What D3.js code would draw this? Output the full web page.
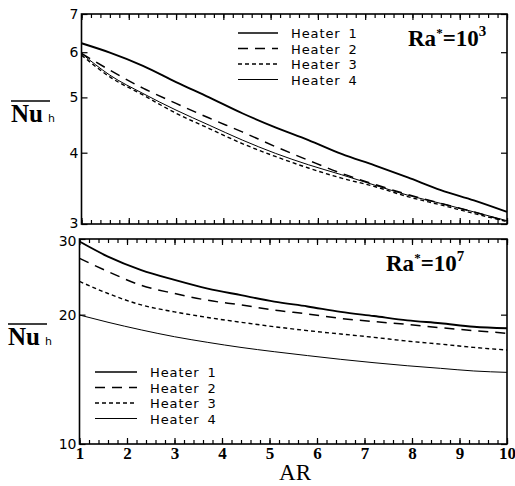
<!DOCTYPE html>
<html>
<head>
<meta charset="utf-8">
<script src="https://cdn.jsdelivr.net/npm/d3@7"></script>
<style>
  html, body { margin: 0; padding: 0; background: #fff; }
  svg { display: block; }
</style>
</head>
<body>
<svg id="chart" width="515" height="486"></svg>
<script>
// ---- data ----
const aspectRatios = [1, 1.6, 2.3, 3, 3.7, 4.4, 5.1, 5.8, 6.5, 7.2, 7.9, 8.6, 9.3, 10];
const heaterNames = ["Heater 1", "Heater 2", "Heater 3", "Heater 4"];

// Ra* = 10^3
const nuRa3Heater1 = [6.22, 5.99, 5.68, 5.32, 5.00, 4.69, 4.43, 4.21, 3.98, 3.80, 3.62, 3.44, 3.30, 3.15];
const nuRa3Heater2 = [5.97, 5.58, 5.19, 4.88, 4.60, 4.35, 4.10, 3.88, 3.68, 3.52, 3.38, 3.26, 3.15, 3.03];
const nuRa3Heater3 = [5.93, 5.43, 5.05, 4.69, 4.41, 4.15, 3.94, 3.76, 3.61, 3.49, 3.35, 3.24, 3.13, 3.03];
const nuRa3Heater4 = [5.97, 5.47, 5.08, 4.75, 4.47, 4.21, 3.99, 3.81, 3.66, 3.51, 3.37, 3.26, 3.15, 3.04];

// Ra* = 10^7
const nuRa7Heater1 = [29.6, 27.3, 25.4, 24.1, 23.0, 22.2, 21.45, 20.9, 20.3, 19.85, 19.4, 19.1, 18.75, 18.6];
const nuRa7Heater2 = [27.05, 25.2, 23.4, 22.4, 21.6, 21.07, 20.5, 20.07, 19.6, 19.27, 18.99, 18.65, 18.36, 18.1];
const nuRa7Heater3 = [23.9, 22.4, 21.07, 20.3, 19.7, 19.2, 18.75, 18.36, 18.03, 17.71, 17.36, 17.08, 16.78, 16.55];
const nuRa7Heater4 = [19.96, 19.2, 18.43, 17.77, 17.24, 16.78, 16.40, 16.06, 15.74, 15.46, 15.21, 15.0, 14.79, 14.68];

const xTickValues = [1, 2, 3, 4, 5, 6, 7, 8, 9, 10];
const xDomain = [1, 10];
const yTicksTop = [3, 4, 5, 6, 7];
const yDomainTop = [3, 7];
const yTicksBottom = [10, 20, 30];
const yDomainBottom = [10, 30];
const raExponents = ["3", "7"];

// ---- styles ----
const styles = [
  { width: 1.9, dash: null },
  { width: 1.5, dash: "10,7" },
  { width: 1.4, dash: "4,3" },
  { width: 1.0, dash: null }
];

const svg = d3.select("#chart");
const tickFont = "DejaVu Sans, sans-serif";
const serif = "Liberation Serif, DejaVu Serif, serif";

function drawPanel(cfg) {
  const g = svg.append("g");
  const x = d3.scaleLinear().domain(xDomain).range([cfg.left, cfg.right]);
  const y = d3.scaleLog().domain(cfg.yDomain).range([cfg.bottom, cfg.top]);
  const minor = d3.range(1, 10.001, 0.2).map(v => +v.toFixed(1));

  // x ticks (inward) on top and bottom edges
  const axes = [
    [d3.axisBottom(x).tickValues(minor).tickSize(-4).tickFormat(""), cfg.bottom],
    [d3.axisBottom(x).tickValues(xTickValues).tickSize(-6).tickFormat(""), cfg.bottom],
    [d3.axisTop(x).tickValues(minor).tickSize(-4).tickFormat(""), cfg.top],
    [d3.axisTop(x).tickValues(xTickValues).tickSize(-6).tickFormat(""), cfg.top]
  ];
  axes.forEach(([ax, ty]) => {
    const a = g.append("g").attr("transform", `translate(0,${ty})`).call(ax);
    a.select(".domain").remove();
    a.selectAll("line").attr("stroke", "#000").attr("stroke-width", 1.2);
  });

  // y axes
  const yl = g.append("g").attr("transform", `translate(${cfg.left},0)`)
    .call(d3.axisLeft(y).tickValues(cfg.yTicks).tickSize(-6).tickPadding(3).tickFormat(d3.format("d")));
  yl.select(".domain").remove();
  yl.selectAll("line").attr("stroke", "#000").attr("stroke-width", 1.2);
  yl.selectAll("text").attr("font-family", tickFont).attr("font-size", 14).attr("fill", "#000")
    .attr("transform", d => `translate(0,${cfg.labelNudge(d)})`);

  const yr = g.append("g").attr("transform", `translate(${cfg.right},0)`)
    .call(d3.axisRight(y).tickValues(cfg.yTicks).tickSize(-6).tickFormat(""));
  yr.select(".domain").remove();
  yr.selectAll("line").attr("stroke", "#000").attr("stroke-width", 1.2);

  // frame
  g.append("rect")
    .attr("x", cfg.left).attr("y", cfg.top)
    .attr("width", cfg.right - cfg.left).attr("height", cfg.bottom - cfg.top)
    .attr("fill", "none").attr("stroke", "#000").attr("stroke-width", 1.6);

  // lines
  const line = d3.line().x((d, i) => x(aspectRatios[i])).y(d => y(d)).curve(d3.curveMonotoneX);
  cfg.series.forEach((s, i) => {
    g.append("path").datum(s)
      .attr("d", line)
      .attr("fill", "none").attr("stroke", "#000")
      .attr("stroke-width", styles[i].width)
      .attr("stroke-dasharray", styles[i].dash);
  });

  // legend
  heaterNames.forEach((name, i) => {
    const ly = cfg.legY + i * cfg.legDy;
    g.append("line")
      .attr("x1", cfg.legX).attr("x2", cfg.legX + cfg.legLen)
      .attr("y1", ly).attr("y2", ly)
      .attr("stroke", "#000").attr("stroke-width", Math.min(styles[i].width, 1.4))
      .attr("stroke-dasharray", styles[i].dash);
    const parts = name.split(" ");
    const t = g.append("text")
      .attr("x", cfg.legX + cfg.legLen + 13).attr("y", ly + 5)
      .attr("font-family", tickFont).attr("font-size", 13).attr("letter-spacing", 0.9)
      .attr("fill", "#000");
    t.append("tspan").text(parts[0]);
    t.append("tspan").attr("dx", 8).text(parts[1]);
  });

  // Ra label
  const ra = g.append("text")
    .attr("x", cfg.raX).attr("y", cfg.raY)
    .attr("font-family", serif).attr("font-weight", "bold").attr("font-size", 23).attr("fill", "#000");
  ra.append("tspan").text("Ra");
  ra.append("tspan").attr("font-size", 13).attr("dy", -9).text("*");
  ra.append("tspan").attr("dy", 9).text("=10");
  ra.append("tspan").attr("font-size", 15).attr("dy", -10).text(cfg.raExp);

  // y title  Nu_h with overline
  const ty = g.append("text")
    .attr("x", cfg.nuX).attr("y", cfg.nuY)
    .attr("font-family", serif).attr("font-weight", "bold").attr("font-size", 25).attr("fill", "#000");
  ty.append("tspan").text("Nu");
  ty.append("tspan").attr("font-family", tickFont).attr("font-weight", "normal")
    .attr("font-size", 11).attr("dx", 5).text("h");
  g.append("line")
    .attr("x1", cfg.nuX).attr("x2", cfg.nuX + 39)
    .attr("y1", cfg.nuY - 21).attr("y2", cfg.nuY - 21)
    .attr("stroke", "#000").attr("stroke-width", 1.5);

  return { x, g };
}

drawPanel({
  left: 81.5, right: 507, top: 14, bottom: 224,
  yDomain: yDomainTop, yTicks: yTicksTop,
  labelNudge: d => (d === yDomainTop[0] ? -1 : 0),
  series: [nuRa3Heater1, nuRa3Heater2, nuRa3Heater3, nuRa3Heater4],
  legX: 238, legLen: 40, legY: 33, legDy: 15.5,
  raX: 408, raY: 46, raExp: raExponents[0],
  nuX: 11, nuY: 122
});

const bottomPanel = drawPanel({
  left: 79.5, right: 507, top: 239, bottom: 444,
  yDomain: yDomainBottom, yTicks: yTicksBottom,
  labelNudge: d => (d === yDomainBottom[1] ? 2 : 0),
  series: [nuRa7Heater1, nuRa7Heater2, nuRa7Heater3, nuRa7Heater4],
  legX: 95, legLen: 42, legY: 372, legDy: 15.5,
  raX: 386, raY: 271, raExp: raExponents[1],
  nuX: 8, nuY: 345
});

// x tick labels
const xl = svg.append("g").attr("transform", "translate(0,444)")
  .call(d3.axisBottom(bottomPanel.x).tickValues(xTickValues).tickSize(0).tickPadding(3).tickFormat(d3.format("d")));
xl.select(".domain").remove();
xl.selectAll("text").attr("font-family", serif).attr("font-weight", "bold").attr("font-size", 17).attr("fill", "#000");

// x title
svg.append("text").attr("x", 295).attr("y", 480).attr("text-anchor", "middle")
  .attr("font-family", serif).attr("font-size", 23).attr("fill", "#000").text("AR");
</script>
</body>
</html>
